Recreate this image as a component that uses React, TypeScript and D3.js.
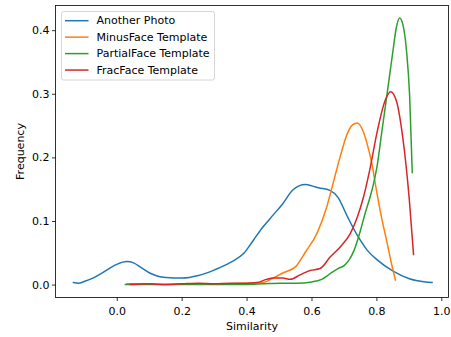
import React from "react";
import * as d3 from "d3";

const seriesNames = ["Another Photo", "MinusFace Template", "PartialFace Template", "FracFace Template"];
const seriesColors = ["#1f77b4", "#ff7f0e", "#2ca02c", "#d62728"];

const blueX = [-0.135, -0.12, -0.1, -0.075, -0.05, -0.025, 0.0, 0.03, 0.05, 0.075, 0.1, 0.125, 0.15, 0.2, 0.25, 0.3, 0.35, 0.39, 0.42, 0.45, 0.48, 0.51, 0.54, 0.56, 0.58, 0.6, 0.62, 0.655, 0.68, 0.71, 0.74, 0.77, 0.8, 0.85, 0.9, 0.95, 0.97];
const blueY = [0.004, 0.003, 0.006, 0.011, 0.018, 0.026, 0.033, 0.037, 0.035, 0.027, 0.019, 0.014, 0.012, 0.011, 0.015, 0.024, 0.036, 0.05, 0.071, 0.092, 0.11, 0.128, 0.149, 0.156, 0.158, 0.156, 0.153, 0.149, 0.138, 0.107, 0.078, 0.055, 0.04, 0.022, 0.01, 0.005, 0.004];

const orangeX = [0.03, 0.1, 0.15, 0.2, 0.3, 0.4, 0.45, 0.48, 0.51, 0.55, 0.58, 0.615, 0.645, 0.665, 0.687, 0.708, 0.725, 0.74, 0.755, 0.77, 0.785, 0.8, 0.815, 0.83, 0.845, 0.857];
const orangeY = [0.002, 0.002, 0.001, 0.002, 0.002, 0.003, 0.004, 0.011, 0.019, 0.029, 0.052, 0.081, 0.122, 0.16, 0.202, 0.237, 0.252, 0.255, 0.245, 0.222, 0.19, 0.145, 0.105, 0.07, 0.034, 0.008];

const greenX = [0.025, 0.1, 0.2, 0.3, 0.4, 0.45, 0.5, 0.55, 0.6, 0.63, 0.656, 0.68, 0.7, 0.715, 0.73, 0.75, 0.765, 0.78, 0.79, 0.8, 0.815, 0.83, 0.85, 0.86, 0.87, 0.88, 0.891, 0.901, 0.909];
const greenY = [0.001, 0.001, 0.001, 0.001, 0.001, 0.002, 0.003, 0.003, 0.005, 0.009, 0.018, 0.026, 0.031, 0.04, 0.055, 0.087, 0.115, 0.14, 0.16, 0.185, 0.24, 0.295, 0.37, 0.405, 0.42, 0.41, 0.37, 0.297, 0.177];

const redX = [0.04, 0.1, 0.15, 0.2, 0.25, 0.3, 0.35, 0.4, 0.43, 0.46, 0.48, 0.51, 0.533, 0.563, 0.594, 0.625, 0.656, 0.687, 0.718, 0.739, 0.759, 0.78, 0.8, 0.826, 0.842, 0.86, 0.878, 0.9, 0.913];
const redY = [0.001, 0.002, 0.001, 0.002, 0.003, 0.002, 0.003, 0.003, 0.004, 0.009, 0.011, 0.011, 0.009, 0.016, 0.023, 0.026, 0.044, 0.06, 0.081, 0.106, 0.139, 0.186, 0.239, 0.291, 0.304, 0.29, 0.239, 0.134, 0.048];

const xTicks = [0.0, 0.2, 0.4, 0.6, 0.8, 1.0];
const yTicks = [0.0, 0.1, 0.2, 0.3, 0.4];

const seriesXs = [blueX, orangeX, greenX, redX];
const seriesYs = [blueY, orangeY, greenY, redY];

export default function App() {
  const W = 451, H = 337;
  const L = 55.5, R = 448.5, T = 5.5, B = 297.5;
  const x = d3.scaleLinear().domain([-0.1903, 1.0207]).range([L, R]);
  const y = d3.scaleLinear().domain([-0.0195, 0.4396]).range([B, T]);
  const font = "DejaVu Sans, sans-serif";
  const fs = 11;

  const line = d3
    .line<[number, number]>()
    .x((d) => x(d[0]))
    .y((d) => y(d[1]))
    .curve(d3.curveMonotoneX);

  const legendY0 = 20.7, legendStep = 16.45;

  return (
    <svg width={W} height={H} style={{ position: "absolute", left: 0, top: 0 }} fontFamily={font}>
      <rect x={0} y={0} width={W} height={H} fill="white" />
      <defs>
        <clipPath id="plotclip">
          <rect x={L} y={T} width={R - L} height={B - T} />
        </clipPath>
      </defs>
      <g clipPath="url(#plotclip)">
        {seriesXs.map((xs, i) => {
          const pts: [number, number][] = xs.map((v, j) => [v, seriesYs[i][j]]);
          return (
            <path key={i} d={line(pts) || ""} fill="none" stroke={seriesColors[i]} strokeWidth={1.5} strokeLinejoin="round" strokeLinecap="square" />
          );
        })}
      </g>
      <rect x={L} y={T} width={R - L} height={B - T} fill="none" stroke="#000" strokeWidth={0.8} />
      {xTicks.map((t) => (
        <g key={"x" + t}>
          <line x1={x(t)} x2={x(t)} y1={B} y2={B + 3.5} stroke="#000" strokeWidth={0.8} />
          <text x={x(t)} y={B + 13.5} fontSize={fs} textAnchor="middle" dominantBaseline="central" fill="#000">
            {t.toFixed(1)}
          </text>
        </g>
      ))}
      {yTicks.map((t) => (
        <g key={"y" + t}>
          <line x1={L - 3.5} x2={L} y1={y(t)} y2={y(t)} stroke="#000" strokeWidth={0.8} />
          <text x={L - 6} y={y(t)} fontSize={fs} textAnchor="end" dominantBaseline="central" fill="#000">
            {t.toFixed(1)}
          </text>
        </g>
      ))}
      <text x={(L + R) / 2} y={326.5} fontSize={fs} textAnchor="middle" dominantBaseline="central" fill="#000">
        Similarity
      </text>
      <text
        transform={`translate(20,${(T + B) / 2}) rotate(-90)`}
        fontSize={fs}
        textAnchor="middle"
        dominantBaseline="central"
        fill="#000"
      >
        Frequency
      </text>
      <rect x={61.5} y={11.5} width={153} height={68.5} rx={2} fill="white" fillOpacity={0.8} stroke="#cccccc" strokeWidth={0.8} />
      {seriesNames.map((n, i) => (
        <g key={n}>
          <line x1={65} x2={88.5} y1={legendY0 + i * legendStep} y2={legendY0 + i * legendStep} stroke={seriesColors[i]} strokeWidth={1.5} />
          <text x={96.5} y={legendY0 + i * legendStep} fontSize={fs} dominantBaseline="central" fill="#000">
            {n}
          </text>
        </g>
      ))}
    </svg>
  );
}
